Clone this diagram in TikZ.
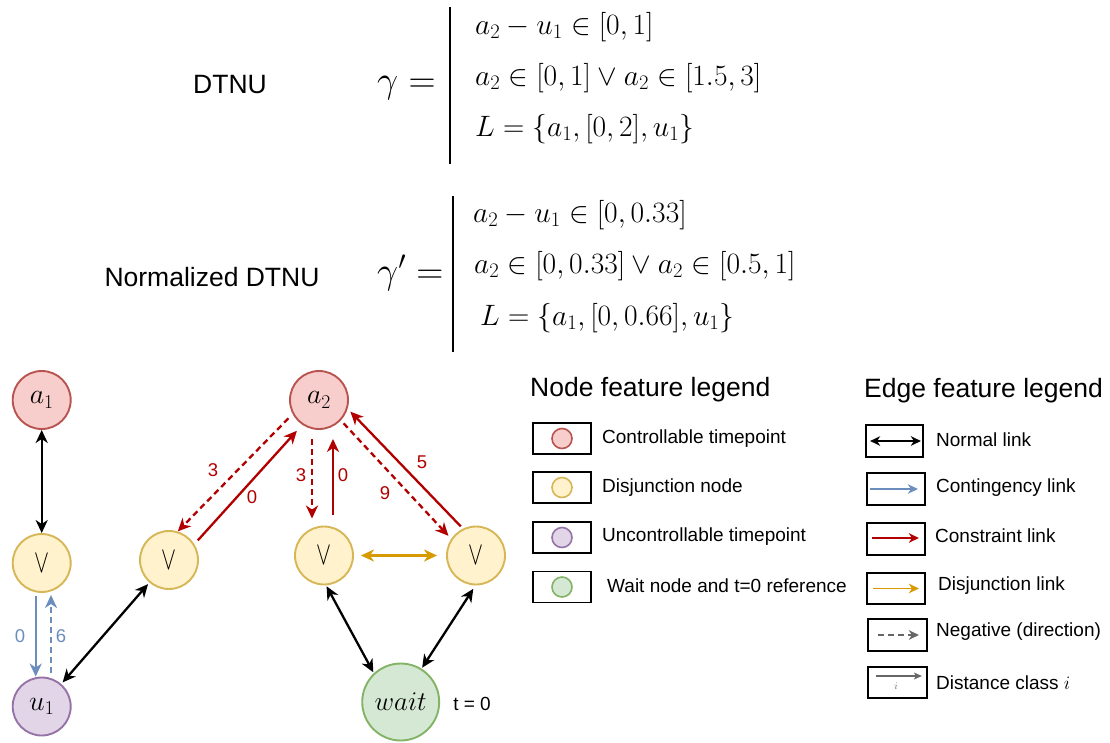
\documentclass[tikz,border=0pt]{standalone}
\usepackage{fix-cm}
\usepackage{graphicx}
\usepackage{fontspec}
\setmainfont{Liberation Sans}
\usetikzlibrary{arrows.meta}
\definecolor{cRed}{HTML}{B20000}
\definecolor{cBlue}{HTML}{6C8EBF}
\definecolor{cOrange}{HTML}{D79B00}
\definecolor{cGray}{HTML}{666666}
\definecolor{aFill}{HTML}{F8CECC}\definecolor{aDraw}{HTML}{B85450}
\definecolor{vFill}{HTML}{FFF2CC}\definecolor{vDraw}{HTML}{D6B656}
\definecolor{uFill}{HTML}{E1D5E7}\definecolor{uDraw}{HTML}{9673A6}
\definecolor{wFill}{HTML}{D5E8D4}\definecolor{wDraw}{HTML}{82B366}
\newcommand{\orsym}{\scalebox{0.68}[1]{$\vee$}}
\tikzset{
  arrtip/.tip={Stealth[length=13pt,width=12pt,inset=4pt]},
  smalltip/.tip={Stealth[length=10pt,width=9.5pt,inset=3pt]},
  nodecirc/.style={circle, minimum size=58pt, inner sep=0pt, line width=1.9pt, font=\fontsize{28}{28}\selectfont},
  ctrl/.style={nodecirc, fill=aFill, draw=aDraw},
  disj/.style={nodecirc, fill=vFill, draw=vDraw, font=\fontsize{33}{33}\selectfont},
  unctrl/.style={nodecirc, fill=uFill, draw=uDraw},
  waitn/.style={nodecirc, minimum size=77pt, fill=wFill, draw=wDraw, font=\fontsize{27}{27}\selectfont},
  edgebase/.style={line width=2.3pt},
  normallink/.style={edgebase, black, arrtip-arrtip},
  contlink/.style={edgebase, cBlue, -arrtip},
  conslink/.style={edgebase, cRed, -arrtip},
  disjlink/.style={edgebase, cOrange, arrtip-arrtip},
  negdash/.style={dash pattern=on 6pt off 4pt},
  elabel/.style={inner sep=0pt, font=\fontsize{18.5}{18.5}\selectfont},
  heading/.style={anchor=west, inner sep=0pt, font=\fontsize{26.5}{28}\selectfont},
  mathline/.style={anchor=base west, inner sep=0pt, font=\fontsize{29.5}{31}\selectfont},
  mathhead/.style={anchor=base west, inner sep=0pt, font=\fontsize{37.5}{39}\selectfont},
  legbox/.style={draw, line width=1.8pt, minimum width=58pt, minimum height=31pt, inner sep=0pt},
  legcirc/.style={circle, minimum size=20pt, inner sep=0pt, line width=1.6pt},
  legtext/.style={anchor=west, inner sep=0pt, font=\fontsize{19}{20}\selectfont},
}
\begin{document}
\begin{tikzpicture}[x=1pt,y=-1pt]
\useasboundingbox (0,0) rectangle (1110,742);

% ---------- titles and formulas ----------
\node[heading, anchor=center] (dtnu) at (230,85) {DTNU};
\node[heading, anchor=center] (ndtnu) at (212,277) {Normalized DTNU};

\node[mathhead] (g1) at (377,92) {$\gamma =$};
\draw[line width=2pt] (450,7) -- (450,164);
\node[mathline] (g1a) at (475,34) {$a_2 - u_1 \in [0, 1]$};
\node[mathline] (g1b) at (475,85) {$a_2 \in [0, 1] \vee a_2 \in [1.5, 3]$};
\node[mathline] (g1c) at (475,136) {$L = \{a_1, [0, 2], u_1\}$};

\node[mathhead] (g2) at (377,283) {$\gamma' =$};
\draw[line width=2pt] (453,196) -- (453,352);
\node[mathline] (g2a) at (473,222) {$a_2 - u_1 \in [0, 0.33]$};
\node[mathline] (g2b) at (474,273) {$a_2 \in [0, 0.33] \vee a_2 \in [0.5, 1]$};
\node[mathline] (g2c) at (480,325) {$L = \{a_1, [0, 0.66], u_1\}$};

% ---------- graph nodes ----------
\node[ctrl] (a1) at (41.7,400) {$a_1$};
\node[ctrl] (a2) at (319,400) {$a_2$};
\node[disj] (v1) at (41.7,563) {\orsym};
\node[disj] (v2) at (169,560) {\orsym};
\node[disj] (v3) at (324,555.5) {\orsym};
\node[disj] (v4) at (476,555.5) {\orsym};
\node[unctrl] (u1) at (41.7,706.5) {$u_1$};
\node[waitn] (w) at (400.7,702) {$wait$};
\node[legtext, anchor=center] (t0) at (472,704) {t = 0};

% ---------- graph edges ----------
\draw[normallink] (a1.south) -- (v1.north);
\draw[contlink] ([xshift=-6pt,yshift=-3pt]v1.south) -- ([xshift=-6pt]u1.north);
\draw[contlink, negdash] ([xshift=9.3pt,yshift=4pt]u1.north) -- ([xshift=9.3pt,yshift=-2pt]v1.south);
\node[elabel, text=cBlue] (l0) at (20,636) {0};
\node[elabel, text=cBlue] (l6) at (61,636) {6};

\draw[normallink, shorten <=2pt, shorten >=2pt] (u1) -- (v2);

\draw[conslink, shorten <=5pt, shorten >=8pt] (v2.32) -- (a2.-124);
\draw[conslink, negdash, shorten <=6pt] (a2.-152.7) -- (v2.73.5);
\node[elabel, text=cRed] (l3a) at (213,470) {3};
\node[elabel, text=cRed] (l0a) at (252,497) {0};

\draw[conslink, negdash] ([xshift=-7pt,yshift=-9pt]a2.south) -- ([xshift=-12pt,yshift=7pt]v3.north);
\draw[conslink] ([xshift=9pt,yshift=11pt]v3.north) -- ([xshift=14pt,yshift=-9pt]a2.south);
\node[elabel, text=cRed] (l3b) at (301,475) {3};
\node[elabel, text=cRed] (l0b) at (343,475) {0};

\draw[conslink, negdash, shorten <=4pt, shorten >=4pt] (a2.-43.8) -- (v4.146.5);
\draw[conslink, shorten <=3pt, shorten >=4pt] (v4.116.2) -- (a2.-17.9);
\node[elabel, text=cRed] (l9) at (385,493) {9};
\node[elabel, text=cRed] (l5) at (422,462) {5};

\draw[disjlink, shorten <=7pt, shorten >=9pt] (v3) -- (v4);

\draw[normallink, shorten <=1pt, shorten >=1pt] (v3.-86) -- (w.133.7);
\draw[normallink, shorten <=4pt, shorten >=1pt] (v4.-91.7) -- (w.58);

% ---------- node legend ----------
\node[heading] (nlh) at (530,390) {Node feature legend};
\node[legbox] (nb1) at (562,438.5) {};
\node[legcirc, fill=aFill, draw=aDraw] (nc1) at (nb1) {};
\node[legtext] (nt1) at (602,438.5) {Controllable timepoint};
\node[legbox] (nb2) at (562,487.5) {};
\node[legcirc, fill=vFill, draw=vDraw] (nc2) at (nb2) {};
\node[legtext] (nt2) at (602,487.5) {Disjunction node};
\node[legbox] (nb3) at (562,537.5) {};
\node[legcirc, fill=uFill, draw=uDraw] (nc3) at (nb3) {};
\node[legtext] (nt3) at (602,536.5) {Uncontrollable timepoint};
\node[legbox] (nb4) at (562,587) {};
\node[legcirc, fill=wFill, draw=wDraw] (nc4) at (nb4) {};
\node[legtext] (nt4) at (607,585.5) {Wait node and t=0 reference};

% ---------- edge legend ----------
\node[heading] (elh) at (864,391) {Edge feature legend};
\node[legbox, minimum width=57pt, minimum height=32pt] (eb1) at (894.5,441) {};
\draw[line width=1.7pt, smalltip-smalltip] ([xshift=5pt]eb1.west) -- ([xshift=-3pt]eb1.east);
\node[legtext] (et1) at (936,440) {Normal link};
\node[legbox, minimum height=32pt] (eb2) at (896,489) {};
\draw[line width=1.7pt, cBlue, -smalltip] ([xshift=4pt]eb2.west) -- ([xshift=-8pt]eb2.east);
\node[legtext] (et2) at (936,488) {Contingency link};
\node[legbox, minimum height=32pt] (eb3) at (896,539) {};
\draw[line width=1.7pt, cRed, -smalltip] ([xshift=6pt,yshift=1pt]eb3.west) -- ([xshift=-7pt,yshift=1pt]eb3.east);
\node[legtext] (et3) at (935,536) {Constraint link};
\node[legbox] (eb4) at (896,588.5) {};
\draw[line width=1.7pt, cOrange, -smalltip] ([xshift=7pt]eb4.west) -- ([xshift=-7pt]eb4.east);
\node[legtext] (et4) at (938,586) {Disjunction link};
\node[legbox, minimum width=59pt, minimum height=32pt] (eb5) at (897.5,635) {};
\draw[line width=1.7pt, cGray, negdash, -smalltip] ([xshift=11pt]eb5.west) -- ([xshift=-9pt]eb5.east);
\node[legtext] (et5) at (936,632) {Negative (direction)};
\node[legbox, minimum width=59pt] (eb6) at (897.5,682.5) {};
\draw[line width=1.1pt, cGray, -{Stealth[length=8pt,width=7pt,inset=2pt]}] ([xshift=9pt,yshift=6.5pt]eb6.west) -- ([xshift=-6pt,yshift=6.5pt]eb6.east);
\node[inner sep=0pt, text=cGray, font=\fontsize{10}{10}\selectfont] (ei) at (896,686) {$i$};
\node[legtext] (et6) at (936,683) {Distance class $i$};
\end{tikzpicture}
\end{document}
